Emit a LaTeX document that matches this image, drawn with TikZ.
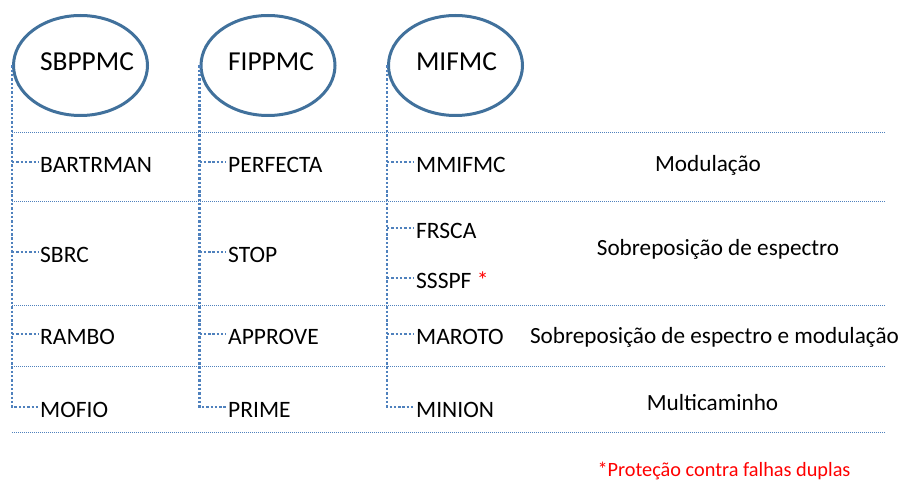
\documentclass[tikz,border=0pt]{standalone}
\usepackage{fontspec}
\setmainfont{Carlito}
\usetikzlibrary{shapes.geometric}
\definecolor{ringblue}{RGB}{65,113,156}
\definecolor{dotblue}{RGB}{79,129,189}
\begin{document}
\begin{tikzpicture}[x=1pt,y=-1pt,
  ring/.style={draw=ringblue,line width=3pt,ellipse,minimum width=134pt,minimum height=100pt,inner sep=0pt},
  head/.style={font=\fontsize{27.4}{32}\selectfont,anchor=base,inner sep=0pt},
  item/.style={font=\fontsize{23.5}{28}\selectfont,anchor=west,inner xsep=2pt,inner ysep=0pt,text height=21pt,text depth=0pt},
  branch/.style={draw=dotblue,line width=2.4pt,dash pattern=on 2.4pt off 1.9pt},
  rule/.style={draw=dotblue,line width=1pt,dash pattern=on 1pt off 1pt},
  cat/.style={font=\fontsize{23.2}{28}\selectfont,anchor=base,inner sep=0pt},
  note/.style={font=\fontsize{20.3}{24}\selectfont,anchor=base,inner sep=0pt,text=red}]
\useasboundingbox (0,0) rectangle (919,481);

% group ellipses and their titles
\node[ring] (e1) at (80.5,65.5) {};
\node[ring] (e2) at (268,65.5) {};
\node[ring] (e3) at (455.5,65.5) {};
\node[head] (h1) at (87,71) {SBPPMC};
\node[head] (h2) at (271,71) {FIPPMC};
\node[head] (h3) at (456.5,71) {MIFMC};

% row separators
\foreach \y [count=\i] in {133,202,306,366,432}{
  \coordinate (r\i a) at (12,\y);
  \coordinate (r\i b) at (885,\y);
  \draw[rule] (r\i a) -- (r\i b);
}

% first column
\node[item] (bartrman) at (38,162) {BARTRMAN};
\node[item] (sbrc) at (38,252) {SBRC};
\node[item] (rambo) at (38,334) {RAMBO};
\node[item] (mofio) at (38,407) {MOFIO};
% second column
\node[item] (perfecta) at (226,162) {PERFECTA};
\node[item] (stop) at (226,252) {STOP};
\node[item] (approve) at (226,334) {APPROVE};
\node[item] (prime) at (226,407) {PRIME};
% third column
\node[item] (mmifmc) at (414,162) {MMIFMC};
\node[item] (frsca) at (414,228) {FRSCA};
\node[item] (ssspf) at (414,278) {SSSPF \textcolor{red}{*}};
\node[item] (maroto) at (414,334) {MAROTO};
\node[item] (minion) at (414,407) {MINION};

% tree branches
\draw[branch] (e1.west) |- (mofio.west);
\foreach \n in {bartrman,sbrc,rambo}
  \draw[branch] (e1.west |- \n.west) -- (\n.west);
\draw[branch] (e2.west) |- (prime.west);
\foreach \n in {perfecta,stop,approve}
  \draw[branch] (e2.west |- \n.west) -- (\n.west);
\draw[branch] (e3.west) |- (minion.west);
\foreach \n in {mmifmc,frsca,ssspf,maroto}
  \draw[branch] (e3.west |- \n.west) -- (\n.west);

% row categories
\node[cat] (c1) at (708,172) {Modulação};
\node[cat] (c2) at (718,256) {Sobreposição de espectro};
\node[cat] (c3) at (714.5,343) {Sobreposição de espectro e modulação};
\node[cat] (c4) at (712.5,410) {Multicaminho};

% footnote
\node[note] (fn) at (724,476) {*Proteção contra falhas duplas};
\end{tikzpicture}
\end{document}
